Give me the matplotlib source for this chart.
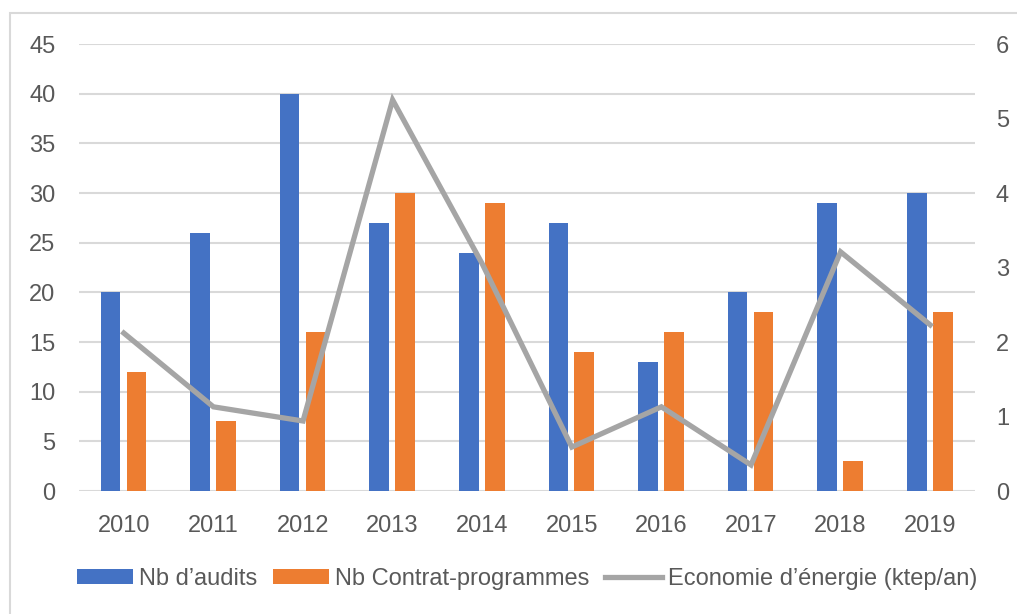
import numpy as np
import matplotlib
matplotlib.use('Agg')
import matplotlib.pyplot as plt
from matplotlib.patches import Rectangle

plt.rcParams['font.family'] = ['Liberation Sans', 'DejaVu Sans']

years = ['2010', '2011', '2012', '2013', '2014', '2015', '2016', '2017', '2018', '2019']
audits = [20, 26, 40, 27, 24, 27, 13, 20, 29, 30]
contrats = [12, 7, 16, 30, 29, 14, 16, 18, 3, 18]
economie = [2.12, 1.13, 0.94, 5.25, 3.05, 0.59, 1.13, 0.35, 3.21, 2.23]

blue = '#4472C4'
orange = '#ED7D31'
grey = '#A5A5A5'
txt = '#595959'

fig = plt.figure(figsize=(10.17, 6.14), dpi=100)
ax = fig.add_axes([0.0777, 0.2003, 0.881, 0.728])

# outer chart border, cut off on the right and bottom like the screenshot
fig.patches.append(Rectangle((10 / 1017, -0.05), 1.1, 1 - 13 / 614 + 0.05,
                             transform=fig.transFigure, fill=False,
                             edgecolor='#D9D9D9', linewidth=1.5))

x = np.arange(len(years))
w = 0.22
ax.bar(x - 0.15, audits, width=w, color=blue, label='Nb d’audits', zorder=3)
ax.bar(x + 0.14, contrats, width=w, color=orange, label='Nb Contrat-programmes', zorder=3)

ax.set_xlim(-0.5, len(years) - 0.5)
ax.set_ylim(0, 45)
ax.set_yticks(np.arange(0, 46, 5))
ax.set_xticks(x)
ax.set_xticklabels(years)
ax.grid(axis='y', color='#D9D9D9', linewidth=1.5, zorder=0)
ax.set_axisbelow(True)
for s in ax.spines.values():
    s.set_visible(False)
ax.tick_params(axis='both', length=0, labelsize=17, colors=txt)
ax.tick_params(axis='y', pad=17)
ax.tick_params(axis='x', pad=17)

ax2 = ax.twinx()
ax2.plot(x, economie, color=grey, linewidth=3.8, label='Economie d’énergie (ktep/an)',
         zorder=4, solid_joinstyle='miter')
ax2.set_ylim(0, 6)
ax2.set_yticks(np.arange(0, 7, 1))
for s in ax2.spines.values():
    s.set_visible(False)
ax2.tick_params(axis='y', length=0, labelsize=17, colors=txt, pad=15)

h1, l1 = ax.get_legend_handles_labels()
h2, l2 = ax2.get_legend_handles_labels()
fig.legend(h1 + h2, l1 + l2, loc='center', bbox_to_anchor=(0.518, 0.057), ncol=3,
           frameon=False, fontsize=17, handlelength=2.4, handleheight=0.6,
           handletextpad=0.25, columnspacing=0.65, labelcolor=txt)

fig.savefig('out.png', dpi=100)
